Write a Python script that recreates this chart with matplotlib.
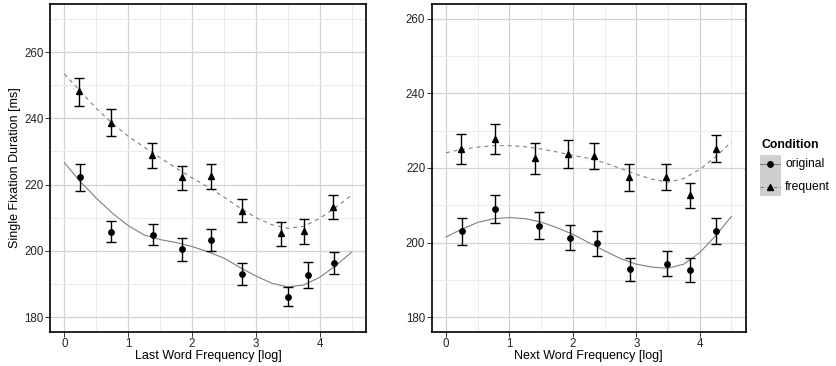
import matplotlib
matplotlib.use("Agg")
import matplotlib.pyplot as plt
from matplotlib.lines import Line2D
from matplotlib.ticker import MultipleLocator

plt.rcParams['font.family'] = ['Liberation Sans', 'DejaVu Sans']

# ---------------- data ----------------
# Left panel: Last Word Frequency
left_freq_x = [0.234, 0.729, 1.38, 1.84, 2.29, 2.78, 3.40, 3.755, 4.21]
left_freq_y = [248.2, 238.7, 228.9, 222.3, 222.7, 212.1, 205.3, 206.0, 213.3]
left_freq_lo = [243.8, 234.6, 225.0, 218.5, 218.8, 208.6, 201.6, 202.2, 209.7]
left_freq_hi = [252.1, 242.7, 232.5, 225.7, 226.3, 215.5, 208.6, 209.7, 216.9]

left_orig_x = [0.24, 0.734, 1.385, 1.84, 2.29, 2.79, 3.51, 3.81, 4.22]
left_orig_y = [222.3, 205.8, 204.9, 200.5, 203.3, 193.0, 186.2, 192.7, 196.3]
left_orig_lo = [218.2, 202.6, 201.7, 197.0, 199.8, 189.7, 183.4, 188.9, 193.0]
left_orig_hi = [226.1, 208.9, 208.1, 203.9, 206.5, 196.3, 189.0, 196.6, 199.7]

# Right panel: Next Word Frequency
right_freq_x = [0.231, 0.766, 1.41, 1.93, 2.34, 2.89, 3.47, 3.85, 4.26]
right_freq_y = [225.2, 227.9, 222.6, 223.8, 223.3, 217.6, 217.7, 212.7, 225.2]
right_freq_lo = [221.0, 223.8, 218.5, 220.0, 219.6, 213.9, 214.1, 209.2, 221.5]
right_freq_hi = [229.1, 231.9, 226.6, 227.5, 226.8, 221.2, 221.0, 216.1, 228.8]

right_orig_x = [0.247, 0.777, 1.465, 1.96, 2.38, 2.90, 3.48, 3.85, 4.26]
right_orig_y = [203.0, 209.0, 204.4, 201.3, 199.8, 192.9, 194.3, 192.6, 203.1]
right_orig_lo = [199.3, 205.2, 201.0, 198.0, 196.5, 189.8, 191.1, 189.4, 199.6]
right_orig_hi = [206.6, 212.7, 208.1, 204.6, 203.2, 195.9, 197.6, 195.9, 206.5]

# Smooth fit curves
curve_x = [0.0, 0.25, 0.5, 0.75, 1.0, 1.25, 1.5, 1.75, 2.0, 2.25,
           2.5, 2.75, 3.0, 3.25, 3.5, 3.75, 4.0, 4.25, 4.5]
left_freq_curve = [253.4, 248.2, 243.0, 238.5, 234.6, 231.3, 228.1, 225.0, 222.0, 219.3,
                   216.2, 213.0, 210.0, 207.9, 206.8, 207.4, 209.8, 213.1, 216.8]
left_orig_curve = [226.6, 220.9, 215.9, 211.4, 207.6, 204.8, 203.4, 202.5, 201.3, 199.7,
                   197.8, 195.0, 192.4, 190.2, 189.1, 189.7, 192.0, 195.5, 199.6]
right_freq_curve = [224.1, 225.0, 225.6, 226.0, 226.0, 225.7, 225.1, 224.3, 223.4, 222.6,
                    221.4, 219.9, 218.3, 217.0, 216.2, 217.2, 219.6, 223.0, 227.0]
right_orig_curve = [201.5, 203.6, 205.4, 206.4, 206.7, 206.4, 205.5, 204.0, 202.2, 200.0,
                    197.8, 195.7, 194.2, 193.4, 193.1, 194.2, 197.3, 201.8, 207.0]

x_ticks = [0, 1, 2, 3, 4]
y_ticks = [180, 200, 220, 240, 260]
xlabels = ["Last Word Frequency [log]", "Next Word Frequency [log]"]
ylabel = "Single Fixation Duration [ms]"
legend_title = "Condition"
legend_labels = ["original", "frequent"]

# ---------------- figure ----------------
W, H = 836, 366
fig = plt.figure(figsize=(W / 100, H / 100), dpi=100)

def px_axes(x0, x1, y0, y1):
    return fig.add_axes([x0 / W, 1 - y1 / H, (x1 - x0) / W, (y1 - y0) / H])

axL = px_axes(50, 366, 4, 332)
axR = px_axes(431.7, 745.7, 4, 332)

line_col = '#7f7f7f'
tick_col = '#222222'
MS_CIRCLE = 3.9
MS_TRI = 3.7

def style(ax, ylim, xlabel):
    ax.set_xlim(-0.225, 4.725)
    ax.set_ylim(*ylim)
    ax.set_xticks(x_ticks)
    ax.set_yticks(y_ticks)
    ax.xaxis.set_minor_locator(MultipleLocator(0.5))
    ax.yaxis.set_minor_locator(MultipleLocator(10))
    ax.grid(which='major', color='#d2d2d2', lw=0.9)
    ax.grid(which='minor', color='#ececec', lw=0.7)
    ax.set_axisbelow(True)
    ax.tick_params(which='major', length=3.4, width=0.7, color='#333333',
                   labelsize=8.3, labelcolor=tick_col, pad=1.2)
    ax.tick_params(which='minor', length=0)
    for s in ax.spines.values():
        s.set_linewidth(1.2)
        s.set_color('black')
    ax.set_xlabel(xlabel, fontsize=9, color='black')
    ax.xaxis.label.set_va('center')
    ax.xaxis.set_label_coords(0.5, -0.0732)

def draw(ax, cf, co, fx, fy, flo, fhi, ox, oy, olo, ohi):
    ax.plot(curve_x, cf, color=line_col, lw=0.8, ls=(0, (3.5, 3.5)), zorder=2)
    ax.plot(curve_x, co, color=line_col, lw=0.8, ls='-', zorder=2)
    for xs, ys, lo, hi, mk, ms in [(fx, fy, flo, fhi, '^', MS_TRI), (ox, oy, olo, ohi, 'o', MS_CIRCLE)]:
        yerr = [[y - l for y, l in zip(ys, lo)], [h - y for y, h in zip(ys, hi)]]
        ax.errorbar(xs, ys, yerr=yerr, fmt='none', ecolor='black', elinewidth=1.0,
                    capsize=3.8, capthick=1.0, zorder=3)
        ax.plot(xs, ys, ls='none', marker=mk, ms=ms, color='black', zorder=4)

style(axL, (175.5, 274.5), xlabels[0])
style(axR, (176, 264), xlabels[1])
draw(axL, left_freq_curve, left_orig_curve, left_freq_x, left_freq_y, left_freq_lo, left_freq_hi,
     left_orig_x, left_orig_y, left_orig_lo, left_orig_hi)
draw(axR, right_freq_curve, right_orig_curve, right_freq_x, right_freq_y, right_freq_lo, right_freq_hi,
     right_orig_x, right_orig_y, right_orig_lo, right_orig_hi)

axL.set_ylabel(ylabel, fontsize=9, color='black')
axL.yaxis.label.set_va('center')
axL.yaxis.set_label_coords((15.3 - 50) / 316, 0.5)

# ---------------- legend ----------------
fig.text(761 / W, 1 - 145 / H, legend_title, fontsize=8.8, fontweight='bold',
         ha='left', va='center')
key = px_axes(760, 780.7, 155, 195.7)
key.set_facecolor('#cfcfcf')
key.set_xlim(0, 1)
key.set_ylim(0, 1)
key.set_xticks([])
key.set_yticks([])
for s in key.spines.values():
    s.set_visible(False)
row_y = [1 - (164.3 - 155) / 40.7, 1 - (186.7 - 155) / 40.7]
key.add_line(Line2D([0, 1], [row_y[0]] * 2, color=line_col, lw=0.8))
key.add_line(Line2D([0, 1], [row_y[1]] * 2, color=line_col, lw=0.8, ls=(0, (3.0, 3.0))))
key.plot([0.5], [row_y[0]], marker='o', ms=MS_CIRCLE, color='black')
key.plot([0.5], [row_y[1]], marker='^', ms=MS_TRI, color='black')
for lab, ypx in zip(legend_labels, [164.3, 186.7]):
    fig.text(785 / W, 1 - ypx / H, lab, fontsize=8.7, ha='left', va='center')

fig.savefig("out.png", dpi=100)
